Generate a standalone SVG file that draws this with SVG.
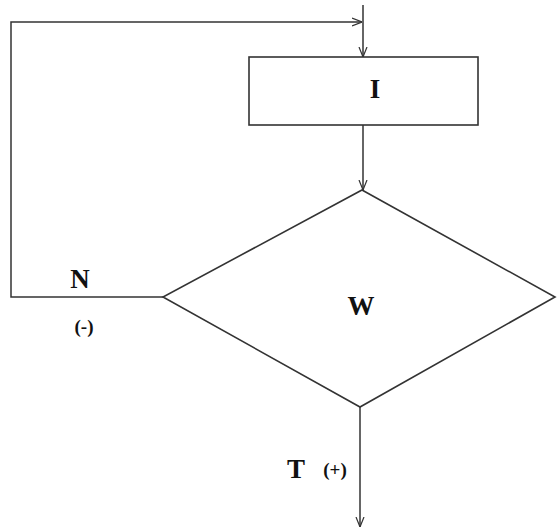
<svg xmlns="http://www.w3.org/2000/svg" width="558" height="531" viewBox="0 0 558 531">
<style>
.ln{fill:none;stroke:#333;stroke-width:1.5}
.sh{fill:#fff;stroke:#333;stroke-width:1.6}
.big{font-family:"Liberation Serif",serif;font-weight:bold;font-size:27px;fill:#111;text-anchor:middle}
.sm{font-family:"Liberation Serif",serif;font-weight:bold;font-size:19px;fill:#111;text-anchor:middle}
</style>
<defs>
<marker id="ah" viewBox="0 0 10 10" refX="10" refY="5" markerWidth="10" markerHeight="10" markerUnits="userSpaceOnUse" orient="auto">
<polyline points="0,1 10,5 0,9" fill="none" stroke="#333" stroke-width="1.2"/>
</marker>
</defs>
<g id="connectors">
<polyline class="ln" points="163,297 11,297 11,22 362,22" marker-end="url(#ah)"/>
<line class="ln" x1="363" y1="5" x2="363" y2="57" marker-end="url(#ah)"/>
<line class="ln" x1="363" y1="125" x2="363" y2="190" marker-end="url(#ah)"/>
<line class="ln" x1="360" y1="407" x2="360" y2="527" marker-end="url(#ah)"/>
</g>
<g id="nodeI">
<rect class="sh" x="249" y="57" width="229" height="68"/>
<text class="big" x="375" y="98">I</text>
</g>
<g id="nodeW">
<polygon class="sh" points="362,190 555,297 360,407 163,297"/>
<text class="big" x="361" y="315">W</text>
</g>
<g id="labels">
<text class="big" x="80" y="288">N</text>
<text class="sm" x="84" y="333">(-)</text>
<text class="big" x="296" y="478">T</text>
<text class="sm" x="335" y="476">(+)</text>
</g>
</svg>
